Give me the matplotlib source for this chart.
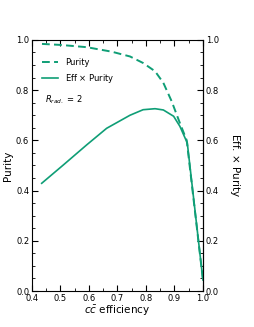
import matplotlib
matplotlib.use("Agg")
import matplotlib.pyplot as plt
from matplotlib.ticker import MultipleLocator

eff_pur = [0.435, 0.50, 0.592, 0.68, 0.744, 0.79, 0.832, 0.861, 0.890, 0.919, 0.943, 1.0]
purity = [0.984, 0.980, 0.971, 0.953, 0.934, 0.908, 0.875, 0.829, 0.756, 0.669, 0.60, 0.044]
eff_ep = [0.434, 0.51, 0.592, 0.662, 0.744, 0.79, 0.832, 0.861, 0.897, 0.919, 0.937, 0.945, 1.0]
effxpur = [0.429, 0.502, 0.582, 0.648, 0.70, 0.722, 0.726, 0.721, 0.696, 0.656, 0.61, 0.59, 0.044]

color = "#0f9e76"
fig = plt.figure(figsize=(2.54, 3.27), dpi=100)
ax = fig.add_axes([0.126, 0.110, 0.673, 0.768])
ax.plot(eff_pur, purity, ls=(0, (4, 2.2)), color=color, lw=1.4, label="Purity")
ax.plot(eff_ep, effxpur, ls="-", color=color, lw=1.2, label="Eff $\\times$ Purity")
ax.set_xlim(0.4, 1.0)
ax.set_ylim(0.0, 1.0)
ax.xaxis.set_major_locator(MultipleLocator(0.1))
ax.xaxis.set_minor_locator(MultipleLocator(0.05))
ax.yaxis.set_major_locator(MultipleLocator(0.2))
ax.yaxis.set_minor_locator(MultipleLocator(0.05))
ax.tick_params(which="both", direction="in", top=True, right=True, labelsize=6, labelright=True, pad=2)
ax.tick_params(which="major", length=4, width=0.8)
ax.tick_params(which="minor", length=2, width=0.6)
for s in ax.spines.values():
    s.set_linewidth(0.8)
ax.set_xlabel("$c\\bar{c}$ efficiency", fontsize=7.5, labelpad=1)
ax.set_ylabel("Purity", fontsize=7.5, labelpad=2)
ax2 = ax.secondary_yaxis("right")
ax2.set_ticks([])
ax2.set_ylabel("Eff. $\\times$ Purity", fontsize=7.5, rotation=270, labelpad=28)
leg = ax.legend(loc="upper left", bbox_to_anchor=(0.04, 0.94), frameon=False, fontsize=6,
                handlelength=1.9, handletextpad=0.8, labelspacing=0.6, borderaxespad=0.0)
ax.text(0.075, 0.76, "$R_{rad.}$ = 2", transform=ax.transAxes, fontsize=6, va="center")
fig.savefig("out.png", dpi=100)
